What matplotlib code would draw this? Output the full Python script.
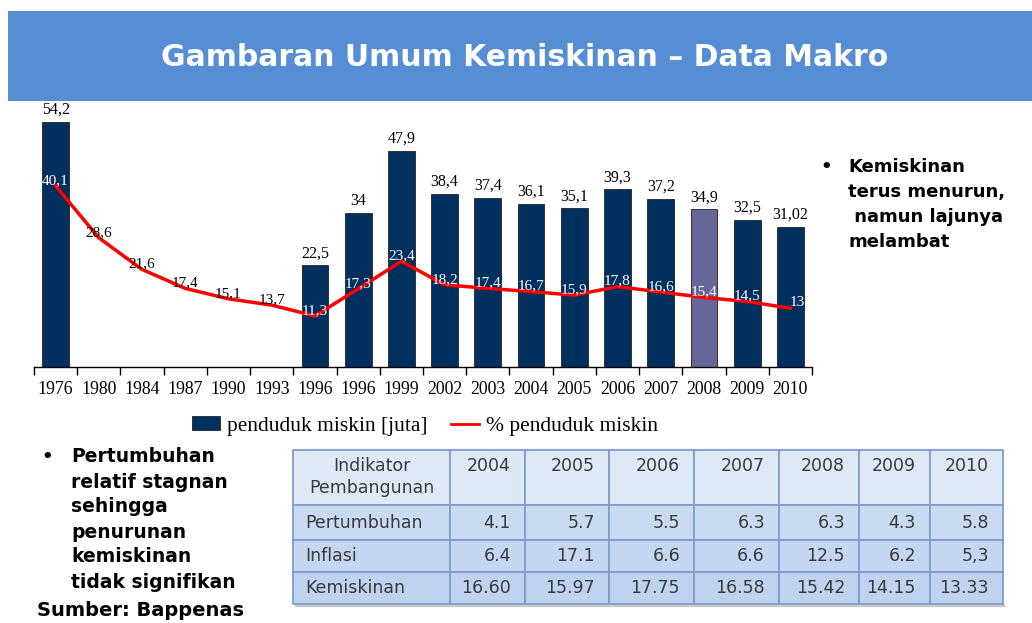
import numpy as np
import matplotlib.pyplot as plt
from matplotlib.patches import Rectangle, Patch
from matplotlib.lines import Line2D

# --------------------------------------------------
# Data
# --------------------------------------------------

years = ["1976", "1980", "1984", "1987", "1990", "1993", "1996", "1996",
         "1999", "2002", "2003", "2004", "2005", "2006", "2007", "2008",
         "2009", "2010"]

# penduduk miskin [juta]  (no bars for 1980-1993)
poor_mln = [54.2, np.nan, np.nan, np.nan, np.nan, np.nan, 22.5, 34, 47.9,
            38.4, 37.4, 36.1, 35.1, 39.3, 37.2, 34.9, 32.5, 31.02]
poor_lbl = ["54,2", "", "", "", "", "", "22,5", "34", "47,9", "38,4", "37,4",
            "36,1", "35,1", "39,3", "37,2", "34,9", "32,5", "31,02"]

# % penduduk miskin
poor_pct = [40.1, 28.6, 21.6, 17.4, 15.1, 13.7, 11.3, 17.3, 23.4, 18.2, 17.4,
            16.7, 15.9, 17.8, 16.6, 15.4, 14.5, 13]
pct_lbl = ["40,1", "28,6", "21,6", "17,4", "15,1", "13,7", "11,3", "17,3",
           "23,4", "18,2", "17,4", "16,7", "15,9", "17,8", "16,6", "15,4",
           "14,5", "13"]

tbl_years = ["2004", "2005", "2006", "2007", "2008", "2009", "2010"]
tbl_rows = ["Pertumbuhan", "Inflasi", "Kemiskinan"]
tbl_growth = ["4.1", "5.7", "5.5", "6.3", "6.3", "4.3", "5.8"]
tbl_infl = ["6.4", "17.1", "6.6", "6.6", "12.5", "6.2", "5,3"]
tbl_poor = ["16.60", "15.97", "17.75", "16.58", "15.42", "14.15", "13.33"]

NAVY = "#00305f"
HILITE = "#666699"
SANS = "DejaVu Sans"
SERIF = "Liberation Serif"

W, H = 1032, 623
fig = plt.figure(figsize=(W / 100, H / 100), dpi=100)

# ---------- background / overlay axes in pixel coords ----------
bg = fig.add_axes([0, 0, 1, 1])
bg.set_xlim(0, W)
bg.set_ylim(H, 0)
bg.axis("off")

bg.add_patch(Rectangle((8, 11), W - 8, 90, color="#558ed5", lw=0))
bg.text(525, 57, "Gambaran Umum Kemiskinan \u2013 Data Makro", color="white",
        fontsize=21.5, fontweight="bold", family=SANS, ha="center",
        va="center")

# ---------- bullet texts ----------
bg.text(826, 167, "\u2022", fontsize=13, fontweight="bold", family=SANS,
        ha="center", va="center")
for i, line in enumerate(["Kemiskinan", "terus menurun,", " namun lajunya",
                          "melambat"]):
    bg.text(848, 167 + i * 25, line, fontsize=13, fontweight="bold",
            family=SANS, ha="left", va="center")

bg.text(47, 457, "\u2022", fontsize=13, fontweight="bold", family=SANS,
        ha="center", va="center")
for i, line in enumerate(["Pertumbuhan", "relatif stagnan", "sehingga",
                          "penurunan", "kemiskinan", "tidak signifikan"]):
    bg.text(71, 457 + i * 25, line, fontsize=13.5, fontweight="bold",
            family=SANS, ha="left", va="center")

bg.text(37, 611, "Sumber: Bappenas", fontsize=14, fontweight="bold",
        family=SANS, ha="left", va="center")

# ---------- table ----------
col_x = [293, 450, 525, 609, 694, 779, 859, 930, 1003]
row_y = [450, 505, 540, 572, 604]
row_fill = ["#dfe8f6", "#c9daf3", "#c4d6f2", "#bfd2f0"]
edge = "#7f9dcb"

bg.add_patch(Rectangle((col_x[0] + 2, row_y[-1]), col_x[-1] - col_x[0],
                       3, color="#c8c8c8", lw=0))
for r in range(4):
    for c in range(len(col_x) - 1):
        bg.add_patch(Rectangle((col_x[c], row_y[r]),
                               col_x[c + 1] - col_x[c],
                               row_y[r + 1] - row_y[r],
                               facecolor=row_fill[r], edgecolor=edge, lw=1.3))

txt_kw = dict(fontsize=12.5, family=SANS, color="#3a3a3a", va="center")
bg.text((col_x[0] + col_x[1]) / 2, 477, "Indikator\nPembangunan",
        ha="center", linespacing=1.3, **txt_kw)
for c, yr in enumerate(tbl_years):
    bg.text(col_x[c + 2] - 14, 466, yr, ha="right", **txt_kw)

for r, (name, vals) in enumerate(zip(tbl_rows,
                                     [tbl_growth, tbl_infl, tbl_poor])):
    yc = (row_y[r + 1] + row_y[r + 2]) / 2
    bg.text(col_x[0] + 12, yc, name, ha="left", **txt_kw)
    for c, v in enumerate(vals):
        bg.text(col_x[c + 2] - 14, yc, v, ha="right", **txt_kw)

# ---------- bar + line chart ----------
ax = fig.add_axes([34 / W, 1 - 367 / H, 778 / W, 262 / H])
ax.patch.set_alpha(0)
x = np.arange(len(years))

bar_colors = [HILITE if y == "2008" else NAVY for y in years]
ax.bar(x, poor_mln, width=0.62, color=bar_colors, edgecolor="#222222",
       linewidth=0.6, zorder=2)
ax.plot(x, poor_pct, color="#ff0000", lw=2.5, zorder=3)

for i, (v, lab) in enumerate(zip(poor_mln, poor_lbl)):
    if lab:
        ax.annotate(lab, (x[i], v), xytext=(0, 3), textcoords="offset points",
                    ha="center", va="bottom", fontsize=11.5, family=SERIF)

for i, (v, lab) in enumerate(zip(poor_pct, pct_lbl)):
    inside = not np.isnan(poor_mln[i])
    dx = 5 if i == len(x) - 1 else 0
    ax.annotate(lab, (x[i], v), xytext=(dx, 4), textcoords="offset points",
                ha="center", va="center", fontsize=11, family=SERIF,
                color="white" if inside else "black", zorder=4)

ax.set_xlim(-0.5, len(years) - 0.5)
ax.set_ylim(0, 58)
ax.set_yticks([])
for s in ["left", "right", "top"]:
    ax.spines[s].set_visible(False)
ax.spines["bottom"].set_linewidth(1.0)

ax.set_xticks(x)
ax.set_xticklabels(years, family=SERIF, fontsize=12.8)
ax.tick_params(axis="x", which="major", length=0, pad=10)
ax.set_xticks(np.arange(-0.5, len(years) + 0.5), minor=True)
ax.tick_params(axis="x", which="minor", length=6, width=1, direction="out")

handles = [Patch(facecolor=NAVY, edgecolor="#222222", lw=0.6),
           Line2D([], [], color="#ff0000", lw=2)]
fig.legend(handles, ["penduduk miskin [juta]", "% penduduk miskin"],
           loc="center", bbox_to_anchor=(425 / W, 1 - 426 / H), ncol=2,
           frameon=False, prop={"family": SERIF, "size": 15.5},
           handlelength=1.3, handleheight=0.6, columnspacing=1.1,
           handletextpad=0.3)

fig.savefig("out.png", dpi=100)
